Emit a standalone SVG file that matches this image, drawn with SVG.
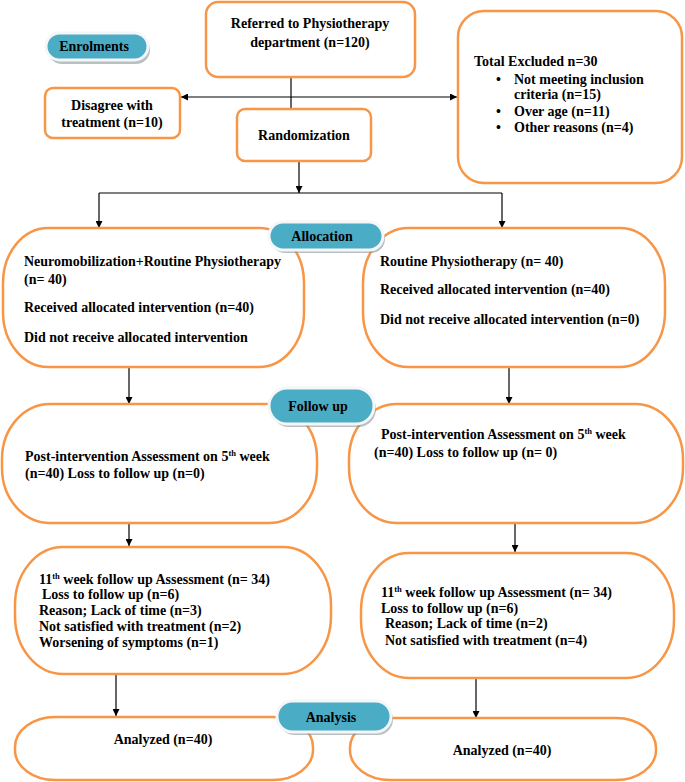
<svg xmlns="http://www.w3.org/2000/svg" width="685" height="782" viewBox="0 0 685 782">
<style>
.box{fill:#fff;stroke:#F79646;stroke-width:2.5}
.t{font-family:"Liberation Serif","Times New Roman",serif;font-weight:bold;font-size:14px;fill:#000}
.c{text-anchor:middle}
.pill{fill:#4BACC6;stroke:#F4F6F7;stroke-width:3}
.shadow{fill:#7f8c92;opacity:0.55}
.ln{stroke:#000;stroke-width:1.2;fill:none}
.sup{font-size:8.5px}
</style>
<defs>
<marker id="ah" viewBox="0 0 10 10" refX="10" refY="5" markerWidth="7" markerHeight="7" orient="auto-start-reverse" markerUnits="userSpaceOnUse">
<path d="M0,0 L10,5 L0,10 z" fill="#000"/>
</marker>
</defs>

<g id="connectors">
<line class="ln" x1="291" y1="77" x2="291" y2="109"/>
<line class="ln" x1="181" y1="97" x2="457" y2="97" marker-start="url(#ah)" marker-end="url(#ah)"/>
<line class="ln" x1="299" y1="161" x2="299" y2="193" marker-end="url(#ah)"/>
<line class="ln" x1="99" y1="193" x2="502" y2="193"/>
<line class="ln" x1="99" y1="193" x2="99" y2="228" marker-end="url(#ah)"/>
<line class="ln" x1="502" y1="193" x2="502" y2="228" marker-end="url(#ah)"/>
<line class="ln" x1="129" y1="367" x2="129" y2="404" marker-end="url(#ah)"/>
<line class="ln" x1="509" y1="367" x2="509" y2="404" marker-end="url(#ah)"/>
<line class="ln" x1="129" y1="523" x2="129" y2="546" marker-end="url(#ah)"/>
<line class="ln" x1="515" y1="523" x2="515" y2="552" marker-end="url(#ah)"/>
<line class="ln" x1="116" y1="674" x2="116" y2="716" marker-end="url(#ah)"/>
<line class="ln" x1="476" y1="678" x2="476" y2="718" marker-end="url(#ah)"/>
</g>

<g id="referred">
<rect class="box" x="206" y="2" width="209" height="75" rx="12"/>
<text class="t c" x="310" y="28">Referred to Physiotherapy</text>
<text class="t c" x="310" y="47">department (n=120)</text>
</g>

<g id="excluded">
<rect class="box" x="458" y="11" width="224" height="172" rx="26"/>
<text class="t" x="474" y="66">Total Excluded n=30</text>
<text class="t" x="496" y="84">•</text>
<text class="t" x="514" y="84">Not meeting inclusion</text>
<text class="t" x="514" y="99">criteria (n=15)</text>
<text class="t" x="496" y="116">•</text>
<text class="t" x="514" y="116">Over age (n=11)</text>
<text class="t" x="496" y="132">•</text>
<text class="t" x="514" y="132">Other reasons (n=4)</text>
</g>

<g id="disagree">
<rect class="box" x="45" y="88" width="135" height="50" rx="8"/>
<text class="t c" x="112" y="110">Disagree with</text>
<text class="t c" x="112" y="127">treatment (n=10)</text>
</g>

<g id="randomization">
<rect class="box" x="237" y="109" width="134" height="52" rx="8"/>
<text class="t c" x="304" y="140">Randomization</text>
</g>

<g id="alloc-left">
<rect class="box" x="3" y="228" width="301" height="139" rx="45" ry="55"/>
<text class="t" x="24" y="266">Neuromobilization+Routine Physiotherapy</text>
<text class="t" x="24" y="284">(n= 40)</text>
<text class="t" x="24" y="312">Received allocated intervention (n=40)</text>
<text class="t" x="24" y="342">Did not receive allocated intervention</text>
</g>

<g id="alloc-right">
<rect class="box" x="363" y="228" width="302" height="139" rx="45" ry="55"/>
<text class="t" x="380" y="266">Routine Physiotherapy (n= 40)</text>
<text class="t" x="380" y="294">Received allocated intervention (n=40)</text>
<text class="t" x="380" y="324">Did not receive allocated intervention (n=0)</text>
</g>

<g id="followup-left">
<rect class="box" x="2" y="404" width="315" height="119" rx="48" ry="55"/>
<text class="t" x="25" y="461">Post-intervention Assessment on 5<tspan class="sup" dy="-5">th</tspan><tspan dy="5"> week</tspan></text>
<text class="t" x="25" y="478">(n=40) Loss to follow up (n=0)</text>
</g>

<g id="followup-right">
<rect class="box" x="349" y="404" width="334" height="119" rx="48" ry="55"/>
<text class="t" x="381" y="439">Post-intervention Assessment on 5<tspan class="sup" dy="-5">th</tspan><tspan dy="5"> week</tspan></text>
<text class="t" x="374" y="457">(n=40) Loss to follow up (n= 0)</text>
</g>

<g id="week11-left">
<rect class="box" x="15" y="547" width="316" height="127" rx="48" ry="58"/>
<text class="t" x="39" y="584">11<tspan class="sup" dy="-5">th</tspan><tspan dy="5"> week follow up Assessment (n= 34)</tspan></text>
<text class="t" x="42" y="599">Loss to follow up (n=6)</text>
<text class="t" x="39" y="615">Reason; Lack of time (n=3)</text>
<text class="t" x="39" y="631">Not satisfied with treatment (n=2)</text>
<text class="t" x="39" y="647">Worsening of symptoms (n=1)</text>
</g>

<g id="week11-right">
<rect class="box" x="361" y="553" width="313" height="125" rx="48" ry="58"/>
<text class="t" x="381" y="597">11<tspan class="sup" dy="-5">th</tspan><tspan dy="5"> week follow up Assessment (n= 34)</tspan></text>
<text class="t" x="381" y="613">Loss to follow up (n=6)</text>
<text class="t" x="385" y="628">Reason; Lack of time (n=2)</text>
<text class="t" x="385" y="645">Not satisfied with treatment (n=4)</text>
</g>

<g id="analyzed-left">
<rect class="box" x="15" y="717" width="298" height="63" rx="40" ry="30"/>
<text class="t c" x="163" y="744">Analyzed (n=40)</text>
</g>

<g id="analyzed-right">
<rect class="box" x="350" y="718" width="306" height="62" rx="40" ry="30"/>
<text class="t c" x="502" y="755">Analyzed (n=40)</text>
</g>

<g id="pill-enrolments">
<rect class="shadow" x="48" y="36" width="102" height="28" rx="14"/>
<rect class="pill" x="46" y="33" width="102" height="27" rx="13.5"/>
<text class="t c" x="94" y="51">Enrolments</text>
</g>

<g id="pill-allocation">
<rect class="shadow" x="271" y="225" width="114" height="28" rx="14"/>
<rect class="pill" x="269" y="222" width="114" height="28" rx="14"/>
<text class="t c" x="322" y="241">Allocation</text>
</g>

<g id="pill-followup">
<rect class="shadow" x="271" y="391" width="105" height="36" rx="18"/>
<rect class="pill" x="269" y="388" width="105" height="36" rx="18"/>
<text class="t c" x="318" y="411">Follow up</text>
</g>

<g id="pill-analysis">
<rect class="shadow" x="279" y="704" width="114" height="31" rx="15.5"/>
<rect class="pill" x="277" y="701" width="114" height="31" rx="15.5"/>
<text class="t c" x="331" y="722">Analysis</text>
</g>
</svg>
